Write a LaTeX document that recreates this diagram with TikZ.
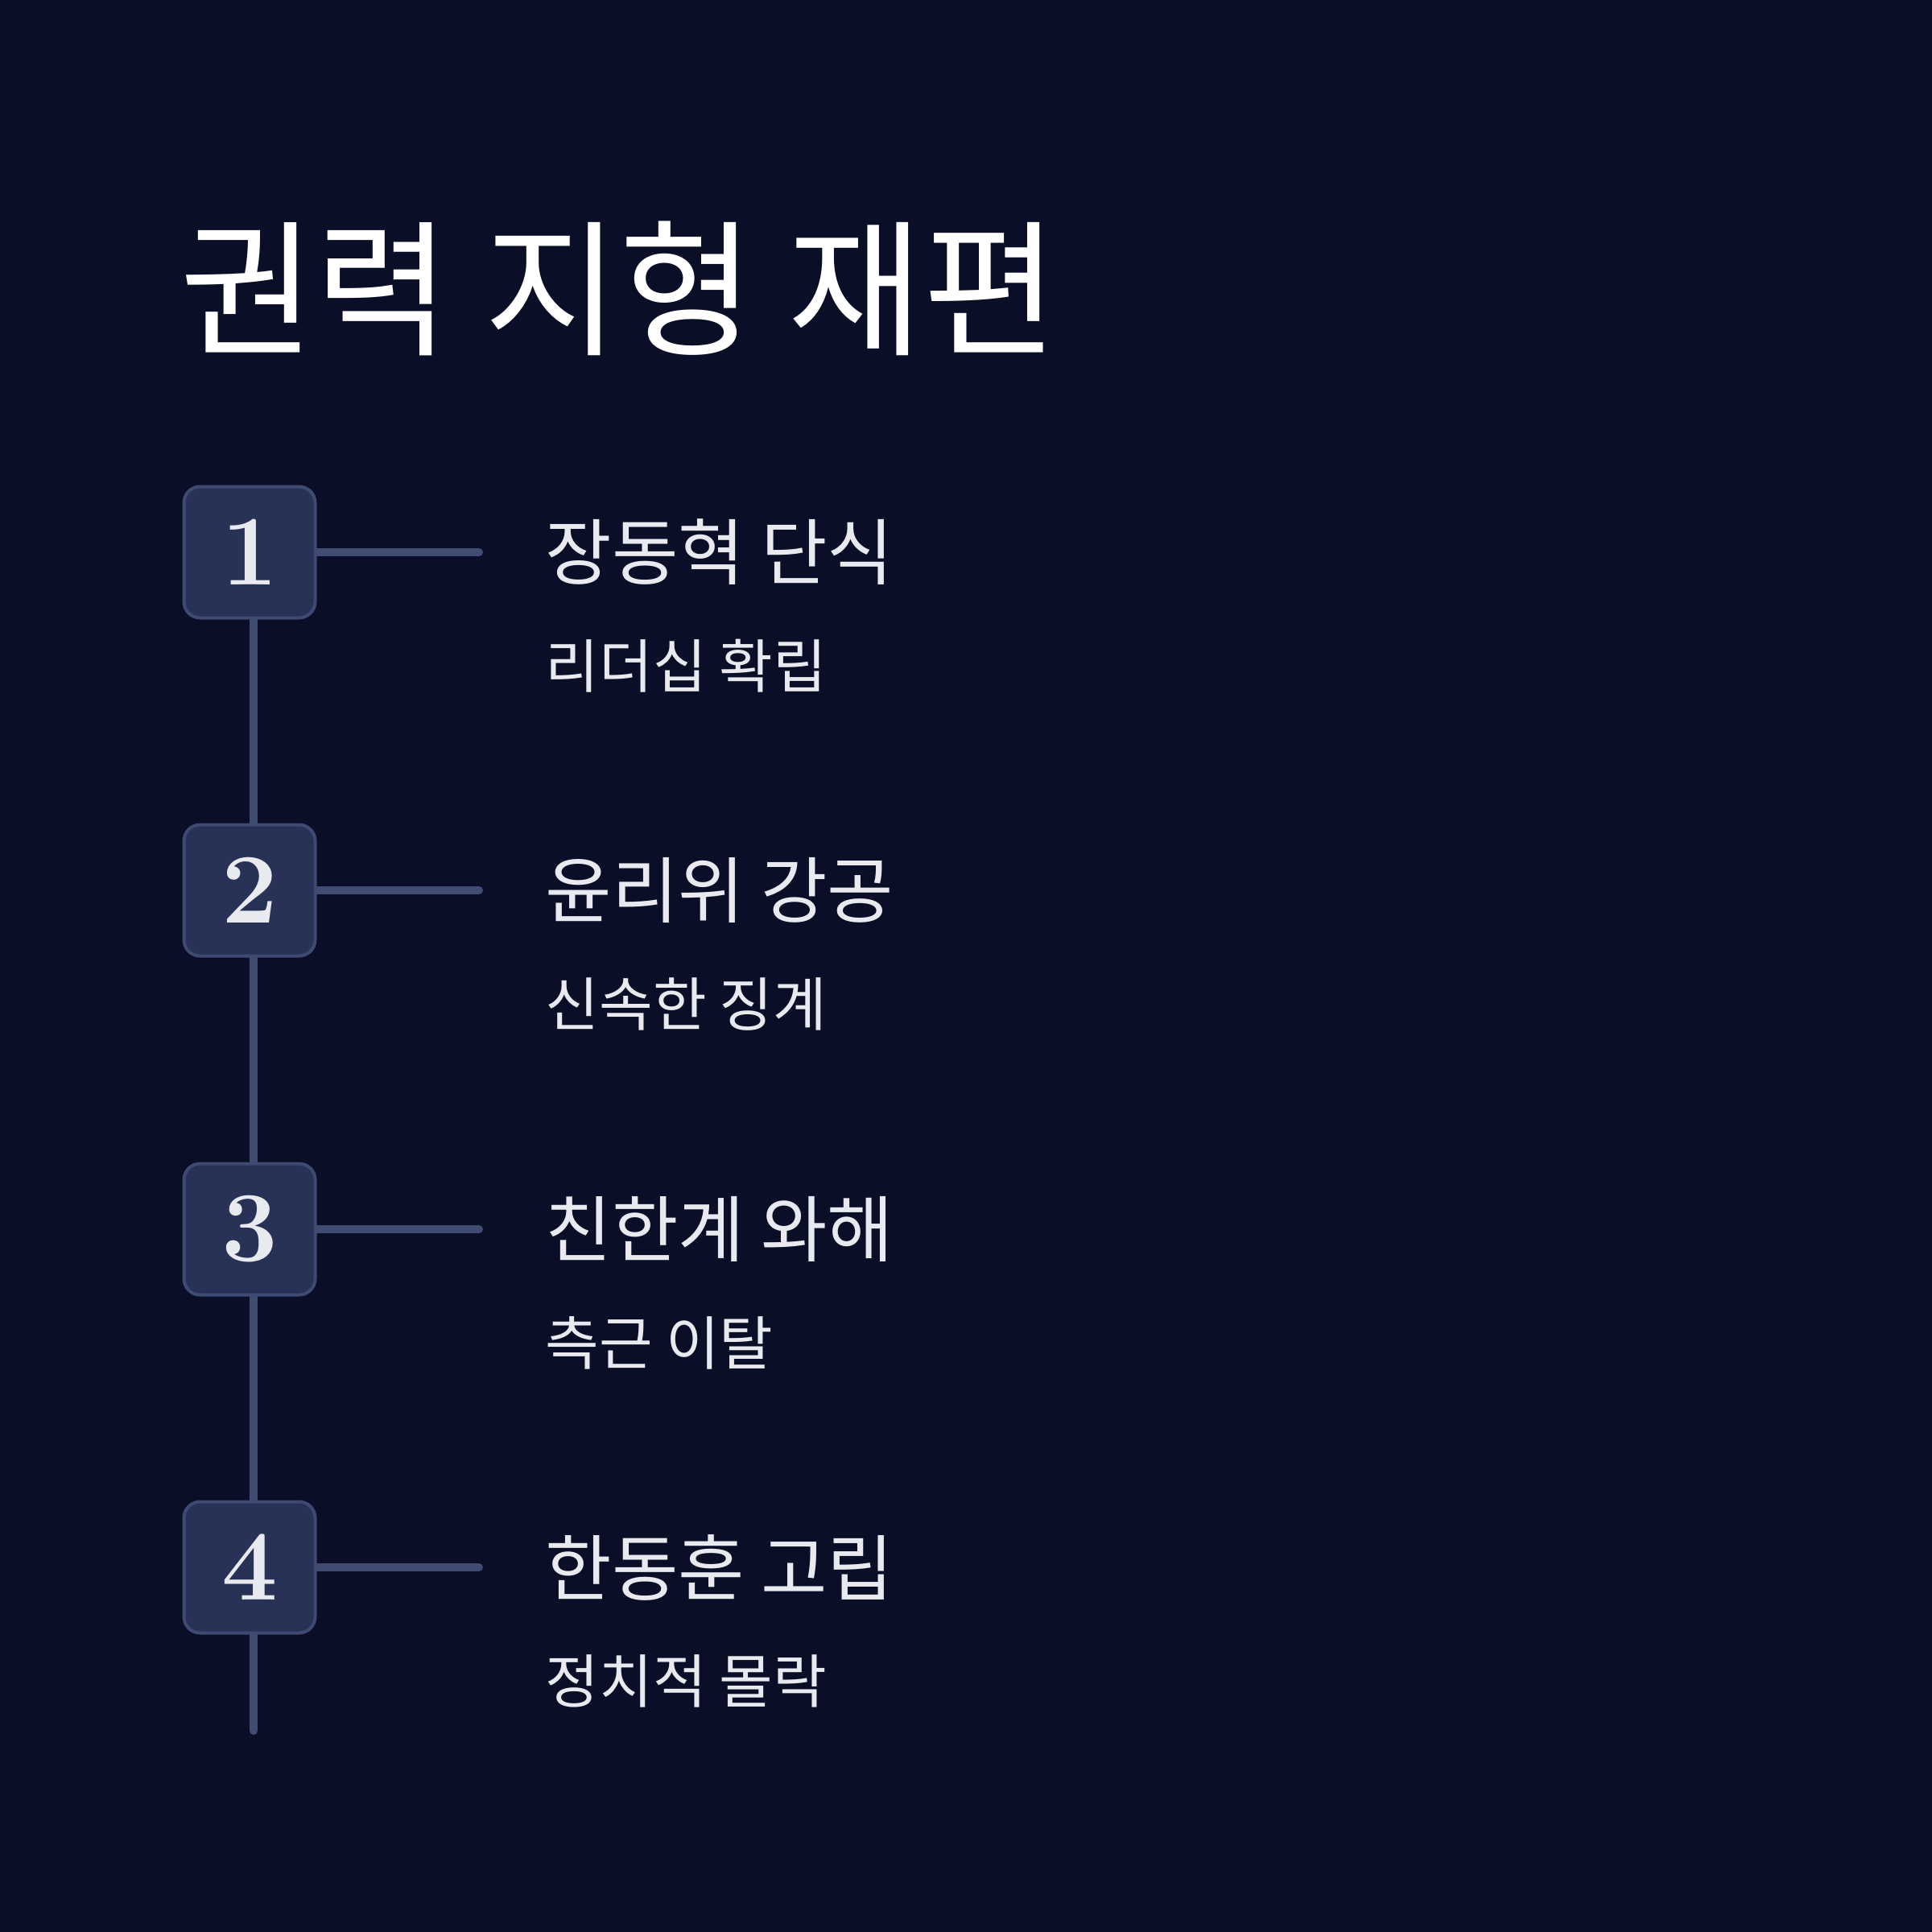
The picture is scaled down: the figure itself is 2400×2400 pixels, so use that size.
\documentclass[tikz,border=0pt]{standalone}
\usepackage{fontspec}
\newfontfamily\kr{Noto Sans CJK KR}
\definecolor{bgc}{HTML}{0A0E27}
\definecolor{boxfill}{HTML}{283256}
\definecolor{boxline}{HTML}{3F4A72}
\definecolor{linec}{HTML}{414C72}
\definecolor{txt}{HTML}{E8EAF0}
\pgfdeclarelayer{bglayer}
\pgfdeclarelayer{linelayer}
\pgfsetlayers{bglayer,linelayer,main}
\tikzset{
  numbox/.style={draw=boxline, fill=boxfill, line width=1pt, rounded corners=5pt,
    minimum width=40.75pt, minimum height=40.75pt, inner sep=0pt,
    text=txt, font=\fontsize{31pt}{31pt}\selectfont\bfseries},
  conn/.style={draw=linec, line width=2.5pt, line cap=round},
  head/.style={anchor=west, inner sep=0pt, text=txt, font=\kr\fontsize{22.4pt}{22.4pt}\selectfont},
  sub/.style={anchor=west, inner sep=0pt, text=txt, font=\kr\fontsize{18.1pt}{18.1pt}\selectfont},
  ttl/.style={anchor=west, inner sep=0pt, text=white, font=\kr\fontsize{45.7pt}{45.7pt}\selectfont}
}
\begin{document}
\begin{tikzpicture}[x=0.25pt, y=-0.25pt]
\begin{pgfonlayer}{bglayer}
\fill[bgc] (0,0) rectangle (2400,2400);
\end{pgfonlayer}
\useasboundingbox (0,0) rectangle (2400,2400);
\node[ttl] (title) at (223,358) {권력 지형 재편};
\node[numbox] (b1) at (310,686) {1};
\node[numbox] (b2) at (310,1106) {2};
\node[numbox] (b3) at (310,1527) {3};
\node[numbox] (b4) at (310,1947) {4};
\coordinate (endv) at (315,2150);
\coordinate (h1) at (595,686);
\coordinate (h2) at (595,1106);
\coordinate (h3) at (595,1527);
\coordinate (h4) at (595,1947);
\begin{pgfonlayer}{linelayer}
\path[conn] ([xshift=1.25pt]b1.south) -- ([xshift=1.25pt]b2.north);
\path[conn] ([xshift=1.25pt]b2.south) -- ([xshift=1.25pt]b3.north);
\path[conn] ([xshift=1.25pt]b3.south) -- ([xshift=1.25pt]b4.north);
\path[conn] ([xshift=1.25pt]b4.south) -- (endv);
\path[conn] (b1.east) -- (h1);
\path[conn] (b2.east) -- (h2);
\path[conn] (b3.east) -- (h3);
\path[conn] (b4.east) -- (h4);
\end{pgfonlayer}
\node[head] (t1) at (677,686) {장동혁 단식};
\node[sub] (s1) at (677,827) {리더십 확립};
\node[head] (t2) at (677,1106) {윤리위 강공};
\node[sub] (s2) at (677,1247) {신속한 징계};
\node[head] (t3) at (677,1527) {친한계 와해};
\node[sub] (s3) at (677,1668) {측근 이탈};
\node[head] (t4) at (677,1947) {한동훈 고립};
\node[sub] (s4) at (677,2088) {정치적 몰락};
\end{tikzpicture}
\end{document}
